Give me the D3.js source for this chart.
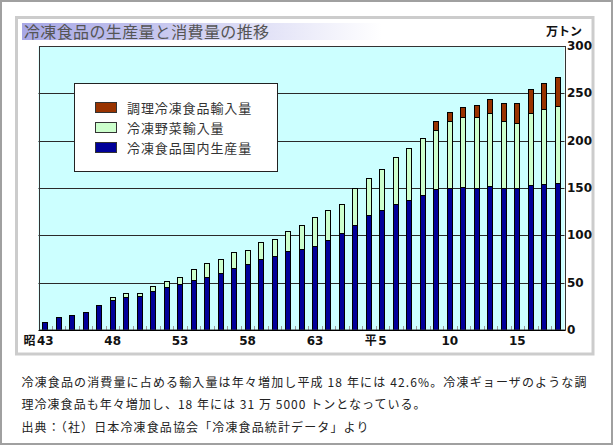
<!DOCTYPE html>
<html><head><meta charset="utf-8">
<script src="https://cdn.jsdelivr.net/npm/d3@7"></script>
<style>
html,body{margin:0;padding:0;background:#fff;}
svg{display:block;}
</style></head>
<body>
<svg id="c" width="614" height="446"></svg>
<script>
// ---- data ----
const categories = ["昭43","昭44","昭45","昭46","昭47","昭48","昭49","昭50","昭51","昭52",
  "昭53","昭54","昭55","昭56","昭57","昭58","昭59","昭60","昭61","昭62","昭63",
  "平1","平2","平3","平4","平5","平6","平7","平8","平9","平10","平11","平12","平13","平14","平15","平16","平17","平18"];
const domestic = [8,13.3,15.4,19.3,26,32,34.4,35.8,41,45.3,48.4,52.6,56.5,60.2,66,69.8,74.7,78.2,83.2,85.3,88.4,
  94.7,102.8,111.2,121,126.7,132.6,136.8,142.5,148.8,149.5,150.9,150.2,151.6,149.5,150.2,153.3,154.4,155.8];
const vegImports = [0,0,0,0,0,3,4.9,2.8,5.3,6.7,8.1,11.6,14.4,15.2,16.1,15.1,17.9,17.9,21.4,25.2,30.9,
  32,30.5,38.6,40,43.8,50.2,55.5,60.3,62.4,70.9,74,74.7,77.5,71.2,68,75.8,78.9,80.7];
const cookedImports = [0,0,0,0,0,0,0,0,0,0,0,0,0,0,0,0,0,0,0,0,0,
  0,0,0,0,0,0,0,0,9.2,9.4,10.9,12.6,15.1,19.3,21.8,25.3,27.7,31.2];
const seriesNames = ["冷凍食品国内生産量","冷凍野菜輸入量","調理冷凍食品輸入量"];
const seriesColors = ["#000099","#ccffcc","#993300"];
const yTicks = [0,50,100,150,200,250,300];
const xTickCats = ["昭43","昭48","昭53","昭58","昭63","平5","平10","平15"];
const xTickLabels = ["昭43","48","53","58","63","平5","10","15"];
const titleText = "冷凍食品の生産量と消費量の推移";
const unitText = "万トン";
const captionLines = [
  "冷凍食品の消費量に占める輸入量は年々増加し平成 18 年には 42.6%。冷凍ギョーザのような調",
  "理冷凍食品も年々増加し、18 年には 31 万 5000 トンとなっている。",
  "出典：（社）日本冷凍食品協会「冷凍食品統計データ」より"
];

// ---- layout ----
const svg = d3.select("#c");
const cjk = "'Noto Sans CJK JP','Noto Sans',sans-serif";
const numFont = "'DejaVu Sans',sans-serif";
const plot = {l:38.5, r:564.5, t:46, b:330};

// outer frame
svg.append("rect").attr("x",1).attr("y",1).attr("width",611).attr("height",443)
  .attr("fill","#fff").attr("stroke","#a0a0a0").attr("stroke-width",2);
// inner panel
svg.append("rect").attr("x",16.5).attr("y",17.5).attr("width",576.5).attr("height",336.5)
  .attr("fill","#fff").attr("stroke","#cccccc").attr("stroke-width",3);

// title bar gradient
const defs = svg.append("defs");
const grad = defs.append("linearGradient").attr("id","tg").attr("x1","0").attr("x2","1").attr("y1","0").attr("y2","0");
grad.append("stop").attr("offset","0").attr("stop-color","#a8a8e6");
grad.append("stop").attr("offset","0.35").attr("stop-color","#c4c4ee");
grad.append("stop").attr("offset","1").attr("stop-color","#ffffff");
svg.append("rect").attr("x",22).attr("y",23).attr("width",360).attr("height",17).attr("fill","url(#tg)");
svg.append("text").attr("x",24).attr("y",37.5).text(titleText)
  .attr("font-family",cjk).attr("font-size",16).attr("fill","#555")
  .attr("textLength",245).attr("lengthAdjust","spacing");
svg.append("text").attr("x",582).attr("y",35.5).attr("text-anchor","end").text(unitText)
  .attr("font-family",cjk).attr("font-size",12).attr("font-weight","bold").attr("fill","#111");

// scales
const x = d3.scaleBand().domain(categories).range([plot.l, plot.r]).padding(0);
const y = d3.scaleLinear().domain([0,300]).range([plot.b, plot.t]);
const barW = Math.round(x.bandwidth()*0.45);

// plot background
svg.append("rect").attr("x",plot.l).attr("y",plot.t).attr("width",plot.r-plot.l).attr("height",plot.b-plot.t)
  .attr("fill","#ccffff");

// gridlines
svg.append("g").selectAll("line").data(yTicks.filter(v=>v>0 && v<300)).join("line")
  .attr("x1",plot.l).attr("x2",plot.r)
  .attr("y1",d=>Math.round(y(d))+0.5).attr("y2",d=>Math.round(y(d))+0.5)
  .attr("stroke","#2a2a2a").attr("stroke-width",1);

// bottom minor ticks
svg.append("g").selectAll("line").data(categories).join("line")
  .attr("x1",d=>Math.round(x(d))+0.5).attr("x2",d=>Math.round(x(d))+0.5)
  .attr("y1",plot.b).attr("y2",plot.b-4)
  .attr("stroke","#9a9a9a").attr("stroke-width",1);

// stacked bars
const rows = categories.map((c,i)=>({cat:c, s0:domestic[i], s1:vegImports[i], s2:cookedImports[i]}));
const stack = d3.stack().keys(["s0","s1","s2"])(rows);
const gBars = svg.append("g");
stack.forEach((layer,k)=>{
  gBars.append("g").selectAll("rect").data(layer.filter(d=>d[1]-d[0]>0)).join("rect")
    .attr("x",d=>Math.round(x(d.data.cat)+x.bandwidth()/2-barW/2)+0.5)
    .attr("width",barW-1)
    .attr("y",d=>Math.round(y(d[1]))+0.5)
    .attr("height",d=>Math.max(0,Math.round(y(d[0]))-Math.round(y(d[1]))))
    .attr("fill",seriesColors[k]).attr("stroke","#000").attr("stroke-width",1);
});

// plot border
svg.append("rect").attr("x",Math.round(plot.l)+0.5).attr("y",plot.t+0.5)
  .attr("width",Math.round(plot.r-plot.l)).attr("height",plot.b-plot.t-0.5)
  .attr("fill","none").attr("stroke","#333").attr("stroke-width",1);
svg.append("line").attr("x1",plot.l).attr("x2",plot.r+1).attr("y1",plot.b+0.5).attr("y2",plot.b+0.5)
  .attr("stroke","#000");

// y axis labels (right)
const yAxis = d3.axisRight(y).tickValues(yTicks).tickSize(0).tickPadding(0).tickFormat(d3.format("d"));
const ga = svg.append("g").attr("transform",`translate(${plot.r+2.5},0)`).call(yAxis);
ga.select(".domain").remove();
ga.selectAll("text").attr("font-family",numFont).attr("font-size",12).attr("font-weight","bold")
  .attr("fill","#111").attr("dy","0.3em");

// x labels
const gx = svg.append("g");
xTickCats.forEach((c,i)=>{
  const lab = xTickLabels[i];
  const m = lab.match(/^([^0-9]*)([0-9]+)$/);
  const cx = x(c)+x.bandwidth()/2;
  const t = gx.append("text").attr("x",cx).attr("y",344.5).attr("text-anchor","middle")
    .attr("font-family",numFont).attr("font-size",12).attr("font-weight","bold").attr("fill","#111")
    .text(m[2]);
  if(m[1]){
    const w = t.node().getComputedTextLength();
    gx.append("text").attr("x",cx-w/2-1.5).attr("y",344.5).attr("text-anchor","end")
      .attr("font-family",cjk).attr("font-size",12).attr("font-weight","bold").attr("fill","#111")
      .text(m[1]);
  }
});

// legend
const lg = svg.append("g");
lg.append("rect").attr("x",74.5).attr("y",83.5).attr("width",203).attr("height",88)
  .attr("fill","#fff").attr("stroke","#222").attr("stroke-width",1);
const legendOrder = [2,1,0];
legendOrder.forEach((k,j)=>{
  const yy = 102.5 + j*20;
  lg.append("rect").attr("x",95.5).attr("y",yy).attr("width",21).attr("height",10)
    .attr("fill",seriesColors[k]).attr("stroke","#333").attr("stroke-width",1);
  lg.append("text").attr("x",127).attr("y",yy+10).text(seriesNames[k])
    .attr("font-family",cjk).attr("font-size",13).attr("fill","#333")
    .attr("textLength",seriesNames[k].length*13.8).attr("lengthAdjust","spacing");
});

// caption
const capW = [565, 404, 347];
captionLines.forEach((s,i)=>{
  svg.append("text").attr("x",21.5).attr("y",386.5+i*22.5).text(s)
    .attr("font-family",cjk).attr("font-size",12).attr("fill","#222")
    .attr("textLength",capW[i]).attr("lengthAdjust","spacing");
});
</script>
</body></html>
